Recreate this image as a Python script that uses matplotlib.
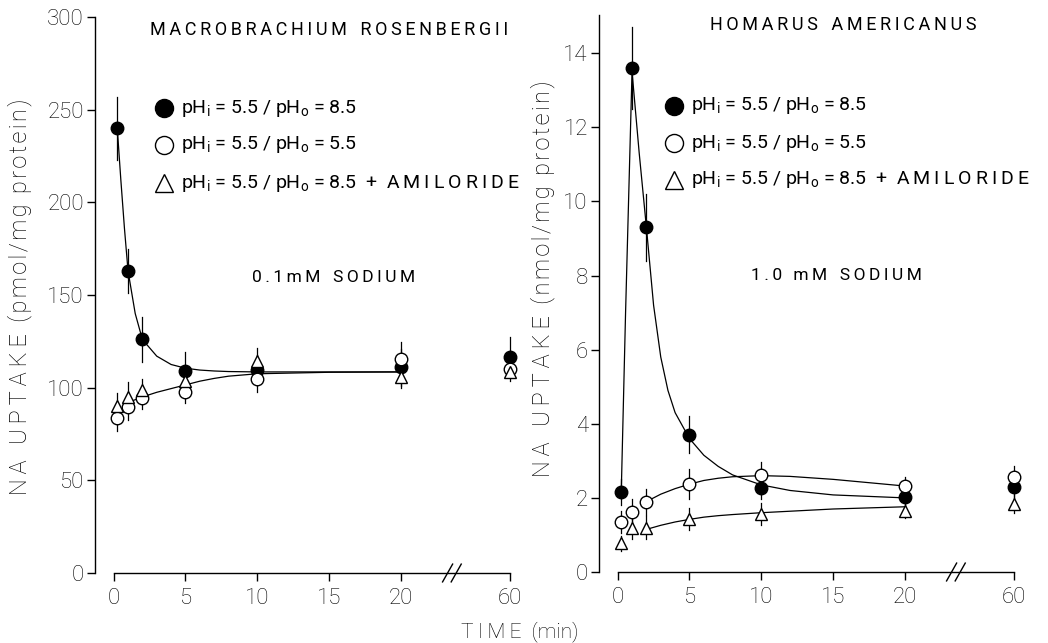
import matplotlib
matplotlib.use("Agg")
import matplotlib.pyplot as plt

plt.rcParams["font.family"] = ["Roboto", "DejaVu Sans"]
plt.rcParams["font.weight"] = "light"
plt.rcParams["mathtext.default"] = "regular"

# sampling times (min); the 60 min reading is placed just past the axis break
time_min = [0.25, 1, 2, 5, 10, 20, 60]
x_ticks = [0, 5, 10, 15, 20, 60]
BREAK_POS = 27.6
BREAK_AT = 23.6

# Macrobrachium rosenbergii, 0.1 mM sodium (pmol/mg protein)
mac_grad = [240, 163, 126, 109, 109.5, 111, 116.5]
mac_grad_err = [17, 12, 12, 10, 8, 10, 11]
mac_equal = [83.5, 89.5, 94.5, 97.5, 104.5, 115.5, 110]
mac_equal_err = [7, 7, 6, 6, 7, 9, 5]
mac_amil = [90, 95, 98.5, 103.5, 114.5, 106, 108.5]
mac_amil_err = [7, 8, 6, 5, 7, 6, 5]

# fitted curves drawn through the Macrobrachium points
mac_fit_grad_t = [0.25, 0.5, 0.75, 1, 1.5, 2, 3, 4, 5, 6, 7, 8, 10, 15, 20]
mac_fit_grad_y = [240, 212, 186, 163, 140, 126, 117, 112.5, 110.5, 109.5, 109, 108.7, 108.5, 108.5, 108.5]
mac_fit_low_t = [1, 2, 3, 4, 5, 6, 7, 8, 10, 15, 20]
mac_fit_low_y = [92, 95, 97.5, 99.5, 101.5, 103.5, 105, 106.2, 107.5, 108.3, 108.5]

# Homarus americanus, 1.0 mM sodium (nmol/mg protein)
hom_grad = [2.16, 13.6, 9.3, 3.7, 2.28, 2.02, 2.3]
hom_grad_err = [0.35, 1.1, 0.9, 0.5, 0.3, 0.25, 0.3]
hom_equal = [1.35, 1.62, 1.89, 2.37, 2.61, 2.32, 2.56]
hom_equal_err = [0.3, 0.35, 0.35, 0.4, 0.35, 0.25, 0.3]
hom_amil = [0.78, 1.18, 1.2, 1.42, 1.56, 1.65, 1.83]
hom_amil_err = [0.2, 0.3, 0.3, 0.3, 0.3, 0.2, 0.25]

# fitted curves drawn through the Homarus points
hom_fit_grad_t = [0.25, 0.55, 1, 1.5, 2, 2.5, 3, 3.5, 4, 5, 6, 7, 8, 10, 12, 15, 20]
hom_fit_grad_y = [2.16, 7.0, 13.5, 11.3, 9.3, 7.2, 5.8, 4.9, 4.3, 3.6, 3.15, 2.85, 2.62, 2.35, 2.2, 2.08, 2.0]
hom_fit_equal_t = [2, 3, 4, 5, 6, 7, 8, 10, 12, 15, 20]
hom_fit_equal_y = [1.9, 2.1, 2.25, 2.37, 2.47, 2.53, 2.57, 2.6, 2.58, 2.5, 2.32]
hom_fit_amil_t = [2, 3, 4, 5, 6, 7, 8, 10, 15, 20]
hom_fit_amil_y = [1.15, 1.26, 1.35, 1.42, 1.48, 1.52, 1.55, 1.6, 1.7, 1.76]


def spaced(s, gap="\u2009"):
    return gap.join(s)


legend_labels = [
    "pH$_{i}$ = 5.5 / pH$_{o}$ = 8.5",
    "pH$_{i}$ = 5.5 / pH$_{o}$ = 5.5",
    "pH$_{i}$ = 5.5 / pH$_{o}$ = 8.5  +  " + spaced("AMILORIDE"),
]
styles = [
    dict(marker="o", mfc="black", mec="black"),
    dict(marker="o", mfc="white", mec="black"),
    dict(marker="^", mfc="white", mec="black"),
]


def pos(t):
    return [BREAK_POS if v == 60 else v for v in t]


def panel(ax, series, fits, ylim, yticks, title, sodium, leg_x, leg_y, txt_x,
          title_xy, sodium_xy):
    ax.set_xlim(-1.3, 28.5)
    ax.set_ylim(*ylim)
    for (t, y) in fits:
        ax.plot(t, y, color="black", lw=0.9, zorder=2)
    for (vals, errs), st in zip(series, styles):
        xs = pos(time_min)
        for x, v, e in zip(xs, vals, errs):
            ax.plot([x, x], [v - e, v + e], color="black", lw=0.9, zorder=3)
        ax.plot(xs, vals, ls="none", ms=9, mew=1.0, zorder=4, **st)
    for sp in ("top", "right"):
        ax.spines[sp].set_visible(False)
    ax.spines["bottom"].set_bounds(0, BREAK_POS)
    ax.spines["left"].set_linewidth(1.0)
    ax.spines["bottom"].set_linewidth(1.0)
    ax.set_xticks(pos(x_ticks))
    ax.set_xticklabels([str(v) for v in x_ticks])
    ax.set_yticks(yticks)
    ax.set_yticklabels([str(v) for v in yticks])
    ax.tick_params(axis="both", direction="out", length=6, width=1.0,
                   labelsize=16, colors="black")
    ax.tick_params(axis="y", pad=2)
    ax.tick_params(axis="x", pad=5)
    # axis break marks
    for dx in (-0.35, 0.25):
        ax.plot([BREAK_AT + dx - 0.35, BREAK_AT + dx + 0.35], [-0.016, 0.016],
                transform=ax.get_xaxis_transform(), color="black", lw=1.0,
                clip_on=False, zorder=5)
    # legend
    for yy, st, lab in zip(leg_y, styles, legend_labels):
        ax.plot([leg_x], [yy], transform=ax.transAxes, ls="none", ms=13,
                mew=1.0, clip_on=False, **st)
        ax.text(txt_x, yy, lab, transform=ax.transAxes, fontsize=14,
                va="center", ha="left", fontweight="normal")
    ax.text(*title_xy, title, transform=ax.transAxes, fontsize=13,
            ha="center", va="center", fontweight="normal")
    ax.text(*sodium_xy, sodium, transform=ax.transAxes, fontsize=12.5,
            ha="center", va="center", fontweight="normal")


fig = plt.figure(figsize=(10.48, 6.43), dpi=100)
ax1 = fig.add_axes([95 / 1048, 70 / 643, 428 / 1048, 556 / 643])
ax2 = fig.add_axes([599 / 1048, 71 / 643, 428 / 1048, 557 / 643])

panel(ax1,
      [(mac_grad, mac_grad_err), (mac_equal, mac_equal_err), (mac_amil, mac_amil_err)],
      [(mac_fit_grad_t, mac_fit_grad_y), (mac_fit_low_t, mac_fit_low_y)],
      (0, 300), [0, 50, 100, 150, 200, 250, 300],
      spaced("MACROBRACHIUM") + "   " + spaced("ROSENBERGII"),
      spaced("0.1mM") + "   " + spaced("SODIUM"),
      0.161, [0.836, 0.770, 0.701], 0.200, (0.547, 0.977), (0.558, 0.532))

panel(ax2,
      [(hom_grad, hom_grad_err), (hom_equal, hom_equal_err), (hom_amil, hom_amil_err)],
      [(hom_fit_grad_t, hom_fit_grad_y), (hom_fit_equal_t, hom_fit_equal_y),
       (hom_fit_amil_t, hom_fit_amil_y)],
      (0, 15.03), [0, 2, 4, 6, 8, 10, 12, 14],
      spaced("HOMARUS") + "   " + spaced("AMERICANUS"),
      spaced("1.0 mM") + "   " + spaced("SODIUM"),
      0.175, [0.837, 0.770, 0.704], 0.215, (0.571, 0.982), (0.554, 0.533))

fig.text(20 / 1048, 1 - 297 / 643,
         spaced("NA UPTAKE") + "  " + spaced("(pmol/mg protein)", "\u200a"),
         rotation=90, fontsize=17, ha="center", va="center")
fig.text(543 / 1048, 1 - 279 / 643,
         spaced("NA UPTAKE") + "  " + spaced("(nmol/mg protein)", "\u200a"),
         rotation=90, fontsize=17, ha="center", va="center")
fig.text(520 / 1048, 1 - 632 / 643, spaced("TIME") + "  (min)",
         fontsize=15, ha="center", va="center")

fig.savefig("out.png", dpi=100)
